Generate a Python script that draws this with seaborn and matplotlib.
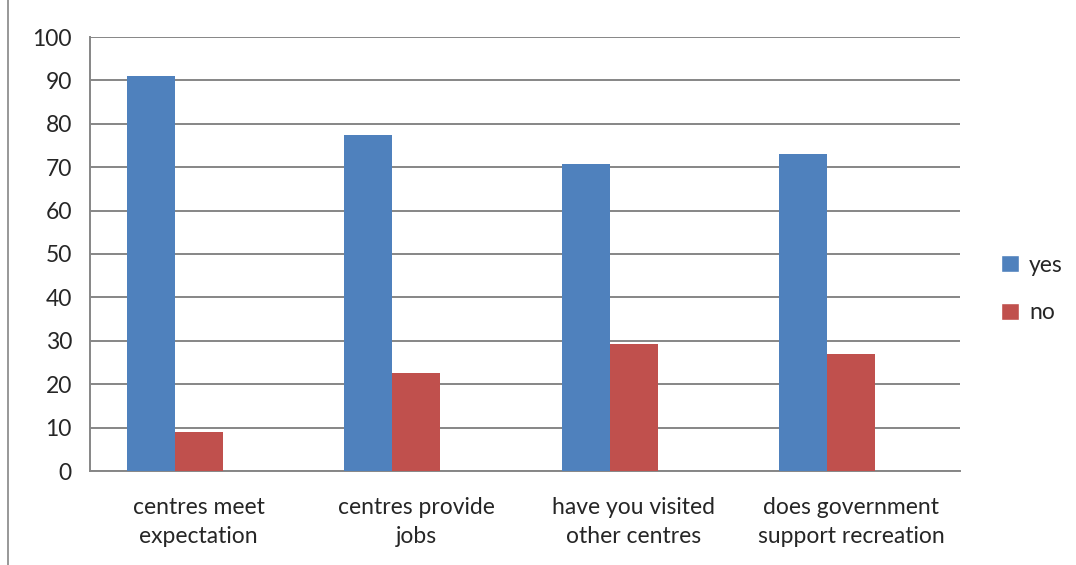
import matplotlib
matplotlib.use("Agg")
import matplotlib.pyplot as plt
import seaborn as sns
import pandas as pd
import numpy as np
from matplotlib.patches import Patch, Rectangle

categories = ["centres meet\nexpectation", "centres provide\njobs",
              "have you visited\nother centres", "does government\nsupport recreation"]
yes_vals = [90.9, 77.5, 70.8, 73.0]
no_vals = [9.1, 22.5, 29.2, 27.0]
series = ["yes", "no", " "]
colors = ["#4F81BD", "#C0504D", "#9BBB59"]
y_ticks = [0, 10, 20, 30, 40, 50, 60, 70, 80, 90, 100]

df = pd.DataFrame({
    "cat": categories * 3,
    "series": ["yes"] * 4 + ["no"] * 4 + [" "] * 4,
    "val": yes_vals + no_vals + [np.nan] * 4,
})

sns.set_style("white")
plt.rcParams["font.family"] = ["Lato", "DejaVu Sans"]

fig = plt.figure(figsize=(10.76, 5.65), dpi=100)
ax = fig.add_axes([90 / 1076, 1 - 471 / 565, 870 / 1076, 434 / 565])

sns.barplot(data=df, x="cat", y="val", hue="series", hue_order=series,
            palette=colors, saturation=1, width=0.66, gap=0, ax=ax, legend=False,
            edgecolor="none", linewidth=0, errorbar=None, zorder=3)

ax.set_ylim(0, 100)
ax.set_xlim(-0.5, 3.5)
ax.set_yticks(y_ticks)
ax.set_yticklabels([str(t) for t in y_ticks], fontsize=16.5)
ax.set_xlabel("")
ax.set_ylabel("")
ax.yaxis.grid(True, color="#868686", linewidth=1.4, zorder=0)
ax.set_axisbelow(True)

ax.set_xticks([0, 1, 2, 3])
ax.set_xticklabels(categories, fontsize=16.5, linespacing=1.45)
ax.tick_params(axis="x", length=0, pad=19)
ax.set_xticks([-0.5, 0.5, 1.5, 2.5, 3.5], minor=True)
ax.tick_params(axis="x", which="minor", length=8, color="#868686", width=1.2, direction="out")
ax.tick_params(axis="y", length=8, color="#868686", width=1.2, direction="out", pad=5)

for s in ["top", "right"]:
    ax.spines[s].set_visible(False)
for s in ["left", "bottom"]:
    ax.spines[s].set_color("#868686")
    ax.spines[s].set_linewidth(1.4)

handles = [Patch(facecolor=colors[0], label="yes"), Patch(facecolor=colors[1], label="no")]
fig.legend(handles=handles, loc="center left", bbox_to_anchor=(990 / 1076, 1 - 289 / 565),
           frameon=False, fontsize=16.5, handlelength=0.75, handleheight=0.75,
           handletextpad=0.45, labelspacing=1.15, borderpad=0)

fig.patches.append(Rectangle((8 / 1076, -0.01), 1.1, 1.05, transform=fig.transFigure,
                             fill=False, edgecolor="#868686", linewidth=1.2))

fig.savefig("out.png", dpi=100)
